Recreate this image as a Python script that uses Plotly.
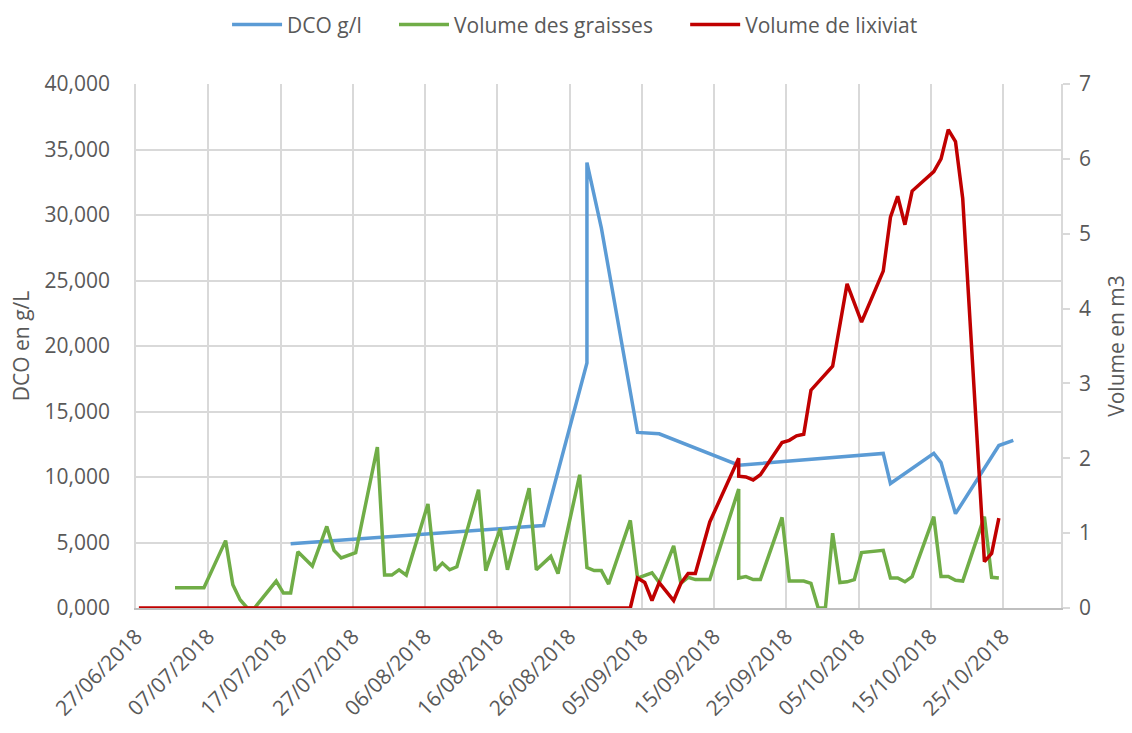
import pandas as pd
import plotly.graph_objects as go

# ---- data ----
dco_dates = ["2018-07-18", "2018-08-22", "2018-08-28", "2018-08-28", "2018-08-30",
             "2018-09-04", "2018-09-07", "2018-09-18", "2018-10-08", "2018-10-09",
             "2018-10-15", "2018-10-16", "2018-10-18", "2018-10-24", "2018-10-26"]
dco_values = [4900, 6300, 18700, 34000, 29000, 13400, 13300, 10900, 11800, 9500,
              11800, 11100, 7200, 12400, 12800]

graisses_dates = ["2018-07-02", "2018-07-06", "2018-07-09", "2018-07-10", "2018-07-11",
                  "2018-07-12", "2018-07-13", "2018-07-16", "2018-07-17", "2018-07-18",
                  "2018-07-19", "2018-07-21", "2018-07-23", "2018-07-24", "2018-07-25",
                  "2018-07-27", "2018-07-30", "2018-07-31", "2018-08-01", "2018-08-02",
                  "2018-08-03", "2018-08-06", "2018-08-07", "2018-08-08", "2018-08-09",
                  "2018-08-10", "2018-08-13", "2018-08-14", "2018-08-16", "2018-08-17",
                  "2018-08-20", "2018-08-21", "2018-08-23", "2018-08-24", "2018-08-27",
                  "2018-08-28", "2018-08-29", "2018-08-30", "2018-08-31", "2018-09-03",
                  "2018-09-04", "2018-09-06", "2018-09-07", "2018-09-09", "2018-09-10",
                  "2018-09-11", "2018-09-12", "2018-09-14", "2018-09-18", "2018-09-18",
                  "2018-09-19", "2018-09-20", "2018-09-21", "2018-09-24", "2018-09-25",
                  "2018-09-27", "2018-09-28", "2018-09-29", "2018-09-30", "2018-10-01",
                  "2018-10-02", "2018-10-03", "2018-10-04", "2018-10-05", "2018-10-08",
                  "2018-10-09", "2018-10-10", "2018-10-11", "2018-10-12", "2018-10-15",
                  "2018-10-16", "2018-10-17", "2018-10-18", "2018-10-19", "2018-10-22",
                  "2018-10-23", "2018-10-24"]
graisses_values = [0.27, 0.27, 0.90, 0.31, 0.11,
                   0.00, 0.00, 0.36, 0.20, 0.20,
                   0.75, 0.56, 1.09, 0.77, 0.67,
                   0.74, 2.15, 0.44, 0.44, 0.51,
                   0.44, 1.39, 0.50, 0.60, 0.51,
                   0.55, 1.58, 0.50, 1.06, 0.51,
                   1.60, 0.51, 0.69, 0.46, 1.78,
                   0.54, 0.50, 0.50, 0.32, 1.17,
                   0.40, 0.47, 0.34, 0.83, 0.33,
                   0.41, 0.38, 0.38, 1.59, 0.40,
                   0.42, 0.38, 0.38, 1.21, 0.36,
                   0.36, 0.33, 0.00, 0.00, 1.00,
                   0.34, 0.35, 0.38, 0.74, 0.77,
                   0.40, 0.40, 0.35, 0.42, 1.22,
                   0.42, 0.42, 0.37, 0.36, 1.22,
                   0.41, 0.40]

lixiviat_dates = ["2018-06-27", "2018-09-03", "2018-09-04", "2018-09-05", "2018-09-06",
                  "2018-09-07", "2018-09-09", "2018-09-10", "2018-09-11", "2018-09-12",
                  "2018-09-14", "2018-09-18", "2018-09-18", "2018-09-19", "2018-09-20",
                  "2018-09-21", "2018-09-24", "2018-09-25", "2018-09-26", "2018-09-27",
                  "2018-09-28", "2018-10-01", "2018-10-03", "2018-10-05", "2018-10-08",
                  "2018-10-09", "2018-10-10", "2018-10-11", "2018-10-12", "2018-10-15",
                  "2018-10-16", "2018-10-17", "2018-10-18", "2018-10-19", "2018-10-22",
                  "2018-10-23", "2018-10-24"]
lixiviat_values = [0.00, 0.00, 0.40, 0.34, 0.10,
                   0.34, 0.10, 0.33, 0.46, 0.46,
                   1.15, 2.00, 1.76, 1.75, 1.71,
                   1.78, 2.21, 2.24, 2.30, 2.32,
                   2.91, 3.23, 4.33, 3.82, 4.50,
                   5.22, 5.50, 5.12, 5.57, 5.83,
                   6.00, 6.39, 6.23, 5.47, 0.62,
                   0.73, 1.20]

series_names = ["DCO g/l", "Volume des graisses", "Volume de lixiviat"]

x_tick_dates = ["2018-06-27", "2018-07-07", "2018-07-17", "2018-07-27", "2018-08-06",
                "2018-08-16", "2018-08-26", "2018-09-05", "2018-09-15", "2018-09-25",
                "2018-10-05", "2018-10-15", "2018-10-25"]
x_tick_labels = ["27/06/2018", "07/07/2018", "17/07/2018", "27/07/2018", "06/08/2018",
                 "16/08/2018", "26/08/2018", "05/09/2018", "15/09/2018", "25/09/2018",
                 "05/10/2018", "15/10/2018", "25/10/2018"]

y_left_ticks = [0, 5000, 10000, 15000, 20000, 25000, 30000, 35000, 40000]
y_left_labels = ["0,000", "5,000", "10,000", "15,000", "20,000", "25,000",
                 "30,000", "35,000", "40,000"]

# ---- styling ----
FONT = "Open Sans"
TXT = "#595959"
GRID = "#d9d9d9"
FS = 21
LW = 3.5
PAD = "\u00a0" * 5  # extra gap after a legend entry

# points sit inside each day slot (Excel date axis): shift grid ticks slightly left
shift = pd.Timedelta(hours=9.6)
tickpos = [d - shift for d in pd.to_datetime(x_tick_dates)]
x_start = pd.Timestamp("2018-06-27") - shift
x_end = x_start + pd.Timedelta(days=128)

fig = go.Figure()
fig.add_trace(go.Scatter(x=pd.to_datetime(dco_dates), y=dco_values,
                         name=series_names[0] + PAD,
                         mode="lines", line=dict(color="#5B9BD5", width=LW), yaxis="y"))
fig.add_trace(go.Scatter(x=pd.to_datetime(graisses_dates), y=graisses_values,
                         name=series_names[1] + PAD, mode="lines",
                         line=dict(color="#70AD47", width=LW), yaxis="y2"))
fig.add_trace(go.Scatter(x=pd.to_datetime(lixiviat_dates), y=lixiviat_values,
                         name=series_names[2], mode="lines",
                         line=dict(color="#C00000", width=LW), yaxis="y2"))

fig.update_layout(
    width=1132, height=733,
    margin=dict(l=136, r=71, t=84, b=125, autoexpand=False),
    paper_bgcolor="white", plot_bgcolor="white",
    font=dict(family=FONT, size=FS, color=TXT),
    showlegend=True,
    legend=dict(orientation="h", xref="container", yref="container",
                x=0.508, xanchor="center", y=0.966, yanchor="middle",
                font=dict(family=FONT, size=FS, color=TXT),
                itemwidth=50, tracegroupgap=0),
    xaxis=dict(type="date", range=[x_start, x_end], automargin=False,
               tickmode="array", tickvals=tickpos, ticktext=x_tick_labels,
               tickangle=-45, showgrid=True, gridcolor=GRID, gridwidth=1.5,
               showline=True, linecolor="#bfbfbf", linewidth=2,
               ticks="", zeroline=False, ticklabelstandoff=6,
               tickfont=dict(family=FONT, size=FS, color=TXT)),
    yaxis=dict(range=[0, 40000], tickmode="array", tickvals=y_left_ticks,
               ticktext=y_left_labels, showgrid=True, gridcolor=GRID, gridwidth=1.5,
               showline=True, linecolor=GRID, linewidth=1.5, zeroline=False,
               automargin=False, ticklabelstandoff=20,
               ticks="", tickfont=dict(family=FONT, size=FS, color=TXT),
               title=dict(text="DCO en g/L", font=dict(family=FONT, size=FS, color=TXT),
                          standoff=9)),
    yaxis2=dict(range=[0, 7], dtick=1, overlaying="y", side="right",
                showgrid=False, zeroline=False, showline=True, linecolor=GRID,
                linewidth=1.5, ticks="outside", ticklen=7, tickcolor=GRID,
                automargin=False, ticklabelstandoff=5,
                tickwidth=1.5, tickfont=dict(family=FONT, size=FS, color=TXT),
                title=dict(text="Volume en m3", font=dict(family=FONT, size=FS, color=TXT),
                           standoff=19)),
)

fig.write_html("out.html", config={"displayModeBar": False},
               post_script="document.body.style.margin='0';")
